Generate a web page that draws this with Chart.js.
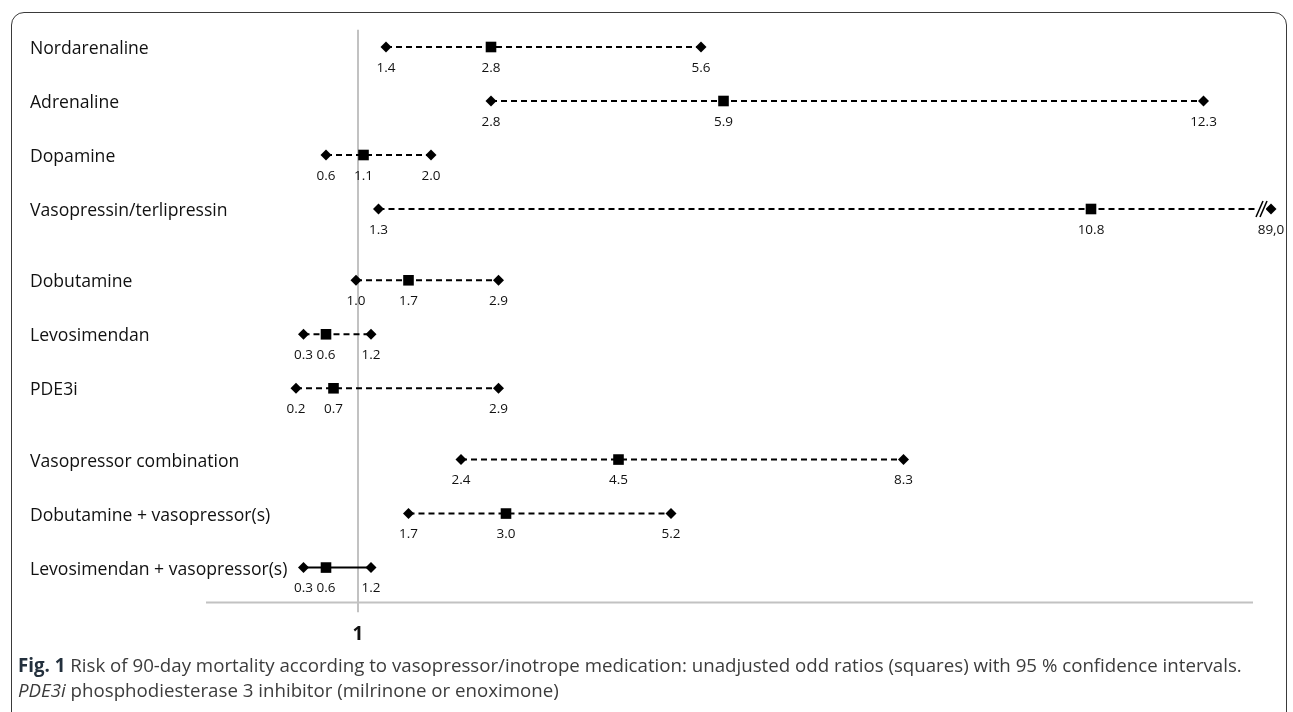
<!DOCTYPE html>
<html>
<head>
<meta charset="utf-8">
<script src="https://cdn.jsdelivr.net/npm/chart.js@4.4.1/dist/chart.umd.min.js"></script>
<style>
    body { margin: 0; background: #fff; }
    #page { position: relative; width: 1293px; height: 712px; overflow: hidden; }
    #forest-chart { position: absolute; left: 0; top: 0; }
    .frame { position: absolute; left: 11px; top: 12px; width: 1276px; height: 760px;
             border: 1.5px solid #3a3a3a; border-radius: 13px; box-sizing: border-box; }
    .caption { position: absolute; left: 18px; top: 652px; width: 1270px; white-space: nowrap;
               font-family: "Open Sans", sans-serif; font-size: 18.7px; line-height: 25px; color: #3c3c3c; }
    .caption b { color: #23303d; }
</style>
</head>
<body>
<div id="page">
    <div class="frame"></div>
    <canvas id="forest-chart" width="1293" height="712"></canvas>
    <div class="caption">
        <b>Fig. 1</b> Risk of 90-day mortality according to vasopressor/inotrope medication: unadjusted odd ratios (squares) with 95 % confidence intervals.<br>
        <i>PDE3i</i> phosphodiesterase 3 inhibitor (milrinone or enoximone)
    </div>
</div>

<script type="text/javascript">

    const drugs = ['Nordarenaline', 'Adrenaline', 'Dopamine', 'Vasopressin/terlipressin',
        'Dobutamine', 'Levosimendan', 'PDE3i',
        'Vasopressor combination', 'Dobutamine + vasopressor(s)', 'Levosimendan + vasopressor(s)'];
    // 0 = vasopressors, 1 = inotropes, 2 = combinations
    const drugGroup = [0, 0, 0, 0, 1, 1, 1, 2, 2, 2];
    const oddsRatio = [2.8, 5.9, 1.1, 10.8, 1.7, 0.6, 0.7, 4.5, 3.0, 0.6];
    const ciLow = [1.4, 2.8, 0.6, 1.3, 1.0, 0.3, 0.2, 2.4, 1.7, 0.3];
    const ciHigh = [5.6, 12.3, 2.0, 89.0, 2.9, 1.2, 2.9, 8.3, 5.2, 1.2];

    const BREAK_AT = 13.2;   // values above this are drawn at the broken end of the axis

    function rowPos(i) {
        return i + 0.32 * drugGroup[i];
    }
    function shown(v) {
        return v > BREAK_AT ? BREAK_AT : v;
    }
    function fmt(v) {
        return v > BREAK_AT ? v.toFixed(1).replace('.', ',') : v.toFixed(1);
    }

    const datasets = drugs.map((name, i) => {
        const last = i === drugs.length - 1;
        return {
            label: name,
            data: [
                {x: shown(ciLow[i]), y: rowPos(i)},
                {x: oddsRatio[i], y: rowPos(i)},
                {x: shown(ciHigh[i]), y: rowPos(i)}
            ],
            showLine: true,
            borderColor: '#000',
            backgroundColor: '#000',
            borderWidth: 2,
            borderDash: last ? [] : [6, 4],
            pointStyle: ['rectRot', 'rect', 'rectRot'],
            pointRadius: [5.5, 7.5, 5.5],
            pointBorderWidth: 0
        };
    });

    const forestDecor = {
        id: 'forestDecor',
        beforeDatasetsDraw(chart) {
            const {ctx, scales: {x, y}} = chart;
            ctx.save();
            ctx.strokeStyle = '#c2c2c2';
            ctx.lineWidth = 2;
            // reference line at OR = 1
            const x1 = x.getPixelForValue(1) + 2;
            ctx.beginPath();
            ctx.moveTo(x1, y.getPixelForValue(-0.32));
            ctx.lineTo(x1, y.getPixelForValue(10.47));
            ctx.stroke();
            // horizontal axis
            const ya = Math.round(y.getPixelForValue(10.28)) + 0.5;
            ctx.beginPath();
            ctx.moveTo(x.getPixelForValue(-1), ya);
            ctx.lineTo(x.getPixelForValue(12.96), ya);
            ctx.stroke();
            ctx.fillStyle = '#111';
            ctx.font = 'bold 19px "Open Sans", sans-serif';
            ctx.textAlign = 'center';
            ctx.textBaseline = 'middle';
            ctx.fillText('1', x1, y.getPixelForValue(10.88));
            ctx.restore();
        },
        afterDatasetsDraw(chart) {
            const {ctx, scales: {x, y}} = chart;
            ctx.save();
            ctx.fillStyle = '#111';
            drugs.forEach((name, i) => {
                const yp = y.getPixelForValue(rowPos(i));
                ctx.font = '17.6px "Open Sans", sans-serif';
                ctx.textAlign = 'left';
                ctx.textBaseline = 'middle';
                ctx.fillText(name, 30, yp + 2);

                ctx.font = '13.5px "Open Sans", sans-serif';
                ctx.textAlign = 'center';
                [ciLow[i], oddsRatio[i], ciHigh[i]].forEach(v => {
                    ctx.fillText(fmt(v), x.getPixelForValue(shown(v)), yp + 21);
                });

                if (ciHigh[i] > BREAK_AT) {
                    // axis break marks
                    const xb = x.getPixelForValue(BREAK_AT) - 11;
                    ctx.fillStyle = '#fff';
                    ctx.fillRect(xb - 4, yp - 3, 10, 6);
                    ctx.fillStyle = '#111';
                    ctx.strokeStyle = '#000';
                    ctx.lineWidth = 1.5;
                    [0, 4].forEach(dx => {
                        ctx.beginPath();
                        ctx.moveTo(xb + dx - 4, yp + 8);
                        ctx.lineTo(xb + dx + 3, yp - 8);
                        ctx.stroke();
                    });
                }
            });
            ctx.restore();
        }
    };

    new Chart(document.getElementById('forest-chart'), {
        type: 'scatter',
        data: {datasets: datasets},
        options: {
            responsive: false,
            animation: false,
            layout: {padding: 0, autoPadding: false},
            plugins: {legend: {display: false}, tooltip: {enabled: false}},
            scales: {
                x: {type: 'linear', display: false, min: -3.7467, max: 13.4933},
                y: {type: 'linear', display: false, reverse: true, min: -0.8704, max: 12.315}
            }
        },
        plugins: [forestDecor]
    });
</script>
</body>
</html>
